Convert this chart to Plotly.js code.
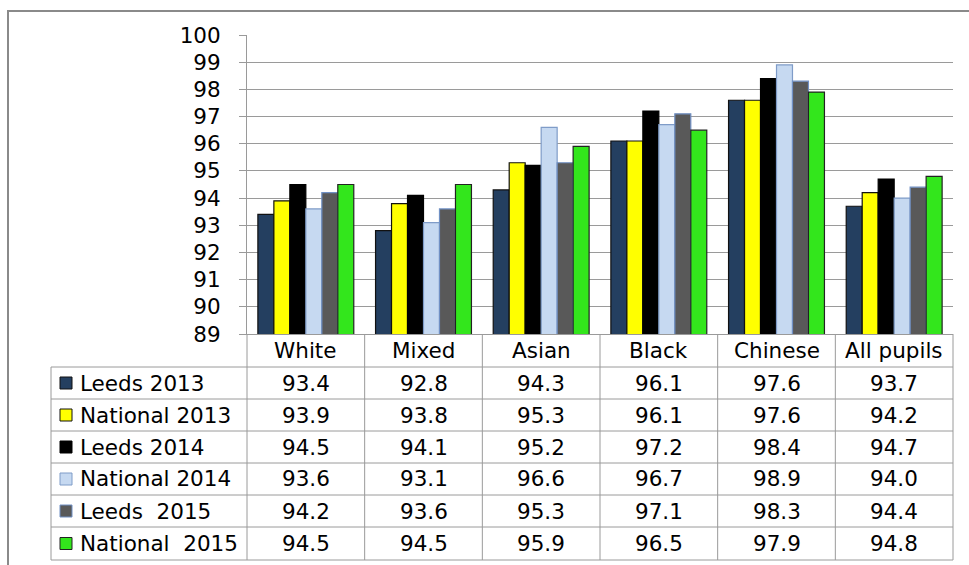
<!DOCTYPE html>
<html>
<head>
<meta charset="utf-8">
<script src="https://cdn.plot.ly/plotly-3.0.1.min.js"></script>
<style>html,body{margin:0;padding:0;background:#fff;}#chart{width:969px;height:565px;}</style>
</head>
<body>
<div id="chart"></div>
<script>
const categories = ['White', 'Mixed', 'Asian', 'Black', 'Chinese', 'All pupils'];
const seriesNames = ['Leeds 2013', 'National 2013', 'Leeds 2014', 'National 2014', 'Leeds \u00a02015', 'National \u00a02015'];
const leeds2013 = [93.4, 92.8, 94.3, 96.1, 97.6, 93.7];
const national2013 = [93.9, 93.8, 95.3, 96.1, 97.6, 94.2];
const leeds2014 = [94.5, 94.1, 95.2, 97.2, 98.4, 94.7];
const national2014 = [93.6, 93.1, 96.6, 96.7, 98.9, 94.0];
const leeds2015 = [94.2, 93.6, 95.3, 97.1, 98.3, 94.4];
const national2015 = [94.5, 94.5, 95.9, 96.5, 97.9, 94.8];
const yTicks = [89, 90, 91, 92, 93, 94, 95, 96, 97, 98, 99, 100];

const seriesValues = [leeds2013, national2013, leeds2014, national2014, leeds2015, national2015];
const fills = ['#243F60', '#FFFF00', '#000000', '#C6D9F1', '#595959', '#33E61C'];
const outlines = ['#111111', '#111111', '#000000', '#7F9CC8', '#7090C4', '#222222'];

const W = 969, H = 565;
const L = 247, R = 953, T = 35, B = 334;
const px = x => (x - L) / (R - L);
const py = y => (B - y) / (B - T);
const FONT = 'DejaVu Sans, Arial, sans-serif';
const FS = 21.5;

const traces = seriesValues.map((vals, i) => ({
  type: 'bar',
  name: seriesNames[i],
  x: categories,
  y: vals,
  marker: {color: fills[i], line: {color: outlines[i], width: 1.2}},
  hoverinfo: 'x+y+name'
}));

const shapes = [];
const annotations = [];
const gridCol = '#9a9a9a';

// outer frame
shapes.push({type: 'rect', xref: 'paper', yref: 'paper', x0: px(8), x1: px(990), y0: py(11), y1: py(590),
  line: {color: '#8a8a8a', width: 2}, fillcolor: 'rgba(0,0,0,0)', layer: 'below'});

// table row lines
const rowLines = [367, 399, 431, 463, 495, 527, 560];
rowLines.forEach(y => shapes.push({type: 'line', xref: 'paper', yref: 'paper', x0: px(51), x1: px(R), y0: py(y), y1: py(y),
  line: {color: gridCol, width: 1}}));
// table left border
shapes.push({type: 'line', xref: 'paper', yref: 'paper', x0: px(51), x1: px(51), y0: py(367), y1: py(560),
  line: {color: gridCol, width: 1}});
// category boundaries
for (let i = 0; i <= categories.length; i++) {
  const xp = i / categories.length;
  shapes.push({type: 'line', xref: 'paper', yref: 'paper', x0: xp, x1: xp, y0: 0, y1: py(560),
    line: {color: gridCol, width: 1}});
}

// header labels
categories.forEach((c, i) => annotations.push({xref: 'x', yref: 'paper', x: c, y: py(350), text: c,
  showarrow: false, xanchor: 'center', yanchor: 'middle', font: {family: FONT, size: FS, color: '#000'}}));

const rowCenters = [383, 415, 447, 479, 511, 543.5];
seriesNames.forEach((name, r) => {
  const yc = rowCenters[r];
  shapes.push({type: 'rect', xref: 'paper', yref: 'paper', x0: px(60), x1: px(72), y0: py(yc - 6), y1: py(yc + 6),
    fillcolor: fills[r], line: {color: outlines[r], width: 1}});
  annotations.push({xref: 'paper', yref: 'paper', x: px(78), y: py(yc), text: name, showarrow: false,
    xanchor: 'left', yanchor: 'middle', font: {family: FONT, size: FS, color: '#000'}});
  seriesValues[r].forEach((v, i) => annotations.push({xref: 'x', yref: 'paper', x: categories[i], y: py(yc),
    text: v.toFixed(1), showarrow: false, xanchor: 'center', yanchor: 'middle',
    font: {family: FONT, size: FS, color: '#000'}}));
});

const layout = {
  width: W, height: H,
  margin: {l: L, r: W - R, t: T, b: H - B, pad: 0},
  paper_bgcolor: '#fff', plot_bgcolor: '#fff',
  barmode: 'group', bargap: 0.185, bargroupgap: 0,
  showlegend: false,
  font: {family: FONT, size: FS, color: '#000'},
  xaxis: {type: 'category', showticklabels: false, ticks: '', showgrid: false, zeroline: false,
    showline: true, linecolor: gridCol, linewidth: 1, range: [-0.5, categories.length - 0.5], fixedrange: true},
  yaxis: {range: [89, 100], tickvals: yTicks, ticktext: yTicks.map(String), ticks: 'outside', ticklen: 7,
    tickcolor: gridCol, tickwidth: 1, ticklabelstandoff: 14, showgrid: true, gridcolor: gridCol, gridwidth: 1,
    zeroline: false, showline: true, linecolor: gridCol, linewidth: 1,
    tickfont: {family: FONT, size: FS, color: '#000'}, fixedrange: true},
  shapes: shapes,
  annotations: annotations
};

Plotly.newPlot('chart', traces, layout, {displayModeBar: false, staticPlot: true});
</script>
</body>
</html>
